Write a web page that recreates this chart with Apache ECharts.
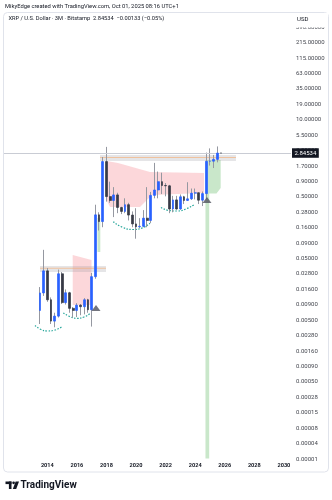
<!DOCTYPE html>
<html><head><meta charset="utf-8">
<script src="https://cdn.jsdelivr.net/npm/echarts@6/dist/echarts.min.js"></script>
<style>html,body{margin:0;padding:0;background:#fff}#c{width:332px;height:500px}</style>
</head><body><div id="c"></div>
<script>
// ---- candle data (XRP/USD, 3M, Bitstamp) ----
const quarters = ['2013Q3','2013Q4','2014Q1','2014Q2','2014Q3','2014Q4','2015Q1','2015Q2','2015Q3','2015Q4',
  '2016Q1','2016Q2','2016Q3','2016Q4','2017Q1','2017Q2','2017Q3','2017Q4','2018Q1','2018Q2','2018Q3','2018Q4',
  '2019Q1','2019Q2','2019Q3','2019Q4','2020Q1','2020Q2','2020Q3','2020Q4','2021Q1','2021Q2','2021Q3','2021Q4',
  '2022Q1','2022Q2','2022Q3','2022Q4','2023Q1','2023Q2','2023Q3','2023Q4','2024Q1','2024Q2','2024Q3','2024Q4',
  '2025Q1','2025Q2','2025Q3','2025Q4'];
const opens = [0.0072,0.0140,0.0324,0.0108,0.0048,0.0058,0.029,0.0097,0.0141,0.0078,0.0072,0.0088,0.0083,0.0108,0.0074,0.026,0.272,0.211,2.06,0.545,0.47,0.58,0.36,0.31,0.40,0.27,0.193,0.173,0.176,0.24,0.22,0.57,0.70,0.96,0.83,0.82,0.34,0.48,0.34,0.54,0.47,0.50,0.62,0.63,0.475,0.61,2.08,2.09,2.24,2.8467];
const highs = [0.0175,0.072,0.036,0.0118,0.0066,0.034,0.031,0.016,0.0146,0.0082,0.0095,0.0092,0.0115,0.0112,0.030,0.40,0.30,2.45,3.6,0.96,0.78,0.63,0.37,0.51,0.43,0.31,0.35,0.24,0.326,0.78,0.65,1.96,1.41,1.35,0.91,0.85,0.56,0.56,0.59,0.56,0.94,0.74,0.74,0.64,0.66,2.9,3.40,2.65,3.66,2.86];
const lows = [0.0043,0.0125,0.0100,0.0043,0.0038,0.0055,0.0092,0.0090,0.0066,0.0055,0.0056,0.0060,0.0062,0.0066,0.0039,0.024,0.15,0.17,0.45,0.43,0.25,0.29,0.28,0.29,0.22,0.17,0.11,0.165,0.17,0.17,0.20,0.51,0.51,0.60,0.55,0.29,0.30,0.33,0.33,0.41,0.46,0.48,0.49,0.41,0.38,0.49,1.77,1.61,2.0,2.84];
const closes = [0.0140,0.0324,0.0108,0.0048,0.0058,0.029,0.0097,0.0141,0.0078,0.0072,0.0088,0.0083,0.0108,0.0074,0.026,0.272,0.211,2.06,0.545,0.47,0.58,0.36,0.31,0.40,0.27,0.193,0.173,0.176,0.24,0.22,0.57,0.70,0.96,0.83,0.82,0.34,0.48,0.34,0.54,0.47,0.50,0.62,0.63,0.475,0.61,2.08,2.09,2.24,2.846,2.84534];
const lastPrice = 2.84534;

// ---- axis tick labels ----
const xTickYears = [2014,2016,2018,2020,2022,2024,2026,2028,2030];
const yTickLabels = ['0.00001','0.00004','0.00008','0.00015','0.00028','0.00050','0.00090','0.00160','0.00280',
  '0.00500','0.00900','0.01600','0.02800','0.05000','0.09000','0.16000','0.28000','0.50000','0.90000','1.70000',
  '3.00000','5.50000','10.00000','19.00000','35.00000','63.00000','115.00000','215.00000','390.00000'];

// ---- drawings (year, price) ----
const pinkZone1 = [[2015.717,0.0592],[2016.989,0.0490],[2016.989,0.00886],[2015.717,0.00886]];
const pinkZone2 = [[2018.003,2.105],[2018.78,1.951],[2020.944,1.387],[2024.595,1.335],[2024.595,0.6244],[2021.079,0.5787],[2020.268,0.3667],[2018.24,0.3667],[2018.003,0.4785]];
const greenZone1 = [[2017.394,0.2414],[2017.583,0.2414],[2017.583,0.0664],[2017.394,0.0664]];
const greenZone2 = [[2024.696,2.188],[2025.724,2.188],[2025.724,0.7548],[2025.44,0.6124],[2024.947,0.6124],[2024.947,0.000026],[2024.696,0.000026]];
const bandStarts = [2013.506, 2017.563];
const bandEnds = [2017.969, 2026.758];
const bandTops = [0.0390, 2.645];
const bandBottoms = [0.0310, 2.105];
const bandLines = [0.0358, 2.40];
const arc1 = [[2013.168,0.004064],[2013.574,0.003491],[2013.980,0.003297],[2014.453,0.003386],[2014.960,0.003839]];
const arc2 = [[2015.082,0.006536],[2015.535,0.005678],[2016.008,0.005341],[2016.481,0.005613],[2016.934,0.006536]];
const arc3 = [[2018.462,0.2099],[2019.118,0.1683],[2019.794,0.1560],[2020.403,0.1651],[2020.944,0.1974]];
const arc4 = [[2021.688,0.3598],[2022.228,0.3210],[2022.769,0.3150],[2023.378,0.3399],[2023.986,0.4111]];
const triangles = [[2017.293,0.0079],[2024.798,0.4785]];

const qx = q => parseInt(q.slice(0,4)) + (parseInt(q.slice(5)) - 1) / 4;
const ohlc = quarters.map((q,i) => [qx(q), opens[i], closes[i], lows[i], highs[i]]);
const bodies = quarters.map((q,i) => [qx(q), opens[i], closes[i], Math.min(opens[i],closes[i]), Math.max(opens[i],closes[i])]);

const FONT = 'Roboto';
function polySeries(shapes, fill) {
  return {
    type:'custom', xAxisIndex:0, yAxisIndex:0, silent:true, z:1,
    data: shapes.map(s => s[0]),
    renderItem: (params, api) => ({
      type:'polygon',
      shape:{ points: shapes[params.dataIndex].map(p => api.coord(p)) },
      style:{ fill: fill }
    })
  };
}
function arcSeries(pts) {
  return {
    type:'line', xAxisIndex:0, yAxisIndex:0, data: pts, smooth:0.5, showSymbol:false, silent:true, z:3,
    lineStyle:{ color:'#26a69a', width:1.2, type:[1.5,1.5] }
  };
}

const chart = echarts.init(document.getElementById('c'), null, {renderer:'canvas'});
chart.setOption({
  animation:false,
  grid:{ left:4, right:41, top:14, bottom:41 },
  xAxis:{
    type:'value', min:2011.07, max:2030.48,
    axisLine:{show:false}, axisTick:{show:false}, splitLine:{show:false},
    axisLabel:{ customValues: xTickYears, formatter: v => String(v), color:'#131722', fontSize:5.6, fontWeight:'bold', fontFamily:FONT, margin:4 }
  },
  yAxis:[
    { type:'log', logBase:10, min:2.547e-5, max:561, show:false },
    { type:'value', position:'right', min:0, max:28.86, interval:1,
      axisLine:{show:false}, axisTick:{show:false}, splitLine:{show:false},
      axisLabel:{ formatter: v => { const i = Math.round(v); return Math.abs(v-i) < 1e-6 ? (yTickLabels[i] || '') : ''; },
        color:'#44474f', fontSize:6, fontFamily:FONT, margin:5 } }
  ],
  series:[
    polySeries([pinkZone1, pinkZone2], 'rgba(242,54,69,0.2)'),
    polySeries([greenZone1, greenZone2], 'rgba(76,175,80,0.3)'),
    {
      type:'custom', xAxisIndex:0, yAxisIndex:0, silent:true, z:2,
      data: bandStarts.map((s,i) => [s, bandTops[i]]),
      renderItem: (params, api) => {
        const i = params.dataIndex;
        const a = api.coord([bandStarts[i], bandTops[i]]);
        const b = api.coord([bandEnds[i], bandBottoms[i]]);
        const l = api.coord([bandStarts[i], bandLines[i]]);
        return { type:'group', children:[
          { type:'rect', shape:{ x:a[0], y:a[1], width:b[0]-a[0], height:b[1]-a[1] }, style:{ fill:'rgba(150,150,160,0.25)' } },
          { type:'line', shape:{ x1:a[0], y1:l[1], x2:b[0], y2:l[1] }, style:{ stroke:'rgba(245,170,110,0.6)', lineWidth:1.1 } }
        ]};
      }
    },
    arcSeries(arc1), arcSeries(arc2), arcSeries(arc3), arcSeries(arc4),
    {
      type:'candlestick', xAxisIndex:0, yAxisIndex:0, data: ohlc, encode:{ x:0, y:[1,2,3,4] },
      barWidth:0.8, silent:true, z:4,
      itemStyle:{ color:'#9598a1', color0:'#9598a1', borderColor:'#9598a1', borderColor0:'#9598a1', borderWidth:1 }
    },
    {
      type:'candlestick', xAxisIndex:0, yAxisIndex:0, data: bodies, encode:{ x:0, y:[1,2,3,4] },
      barWidth:2.3, silent:true, z:5,
      itemStyle:{ color:'#2962ff', color0:'#363a45', borderColor:'#2962ff', borderColor0:'#363a45', borderWidth:0.7 },
      markLine:{
        silent:true, symbol:'none', animation:false,
        data:[{ yAxis: lastPrice }],
        lineStyle:{ color:'#c9ccd4', width:1, type:'solid' },
        label:{ position:'end', formatter: String(lastPrice), color:'#fff', backgroundColor:'#131722',
          fontSize:6, fontFamily:FONT, padding:[2,2.5,1.5,2.5], distance:1 }
      }
    },
    {
      type:'scatter', xAxisIndex:0, yAxisIndex:0, data: triangles, symbol:'triangle', symbolSize:[9,6],
      itemStyle:{ color:'#50535e' }, silent:true, z:6
    }
  ],
  graphic:{ elements:[
    { type:'rect', shape:{ x:3.5, y:12.5, width:325, height:459.5, r:4 }, style:{ fill:'none', stroke:'#e0e3eb', lineWidth:1 }, z:0 },
    { type:'text', x:5, y:7, style:{ text:'MikyEdge created with TradingView.com, Oct 01, 2025 08:16 UTC+1', fill:'#131722', fontSize:5.8, fontFamily:FONT, verticalAlign:'middle', textVerticalAlign:'middle' }, z:10 },
    { type:'text', x:8.5, y:19, style:{ text:'XRP / U.S. Dollar · 3M · Bitstamp  2.84534  \u22120.00133 (\u22120.05%)', fill:'#131722', fontSize:5.7, fontFamily:FONT, verticalAlign:'middle', textVerticalAlign:'middle' }, z:10 },
    { type:'rect', shape:{ x:292, y:13, width:36, height:14.5 }, style:{ fill:'#fff' }, z:10 },
    { type:'text', x:297, y:19, style:{ text:'USD', fill:'#131722', fontSize:6, fontFamily:FONT, verticalAlign:'middle', textVerticalAlign:'middle' }, z:11 },
    { type:'rect', shape:{ x:5.5, y:481.5, width:6, height:2.6 }, style:{ fill:'#131722' }, z:10 },
    { type:'rect', shape:{ x:8.9, y:481.5, width:2.6, height:7.5 }, style:{ fill:'#131722' }, z:10 },
    { type:'circle', shape:{ cx:13.6, cy:482.8, r:1.35 }, style:{ fill:'#131722' }, z:10 },
    { type:'polygon', shape:{ points:[[15.6,481.5],[19,481.5],[16.2,489],[12.8,489]] }, style:{ fill:'#131722' }, z:10 },
    { type:'text', x:20.5, y:485.3, style:{ text:'TradingView', fill:'#131722', fontSize:10, fontWeight:'bold', fontFamily:FONT, verticalAlign:'middle', textVerticalAlign:'middle' }, z:10 }
  ]}
});
</script>
</body></html>
